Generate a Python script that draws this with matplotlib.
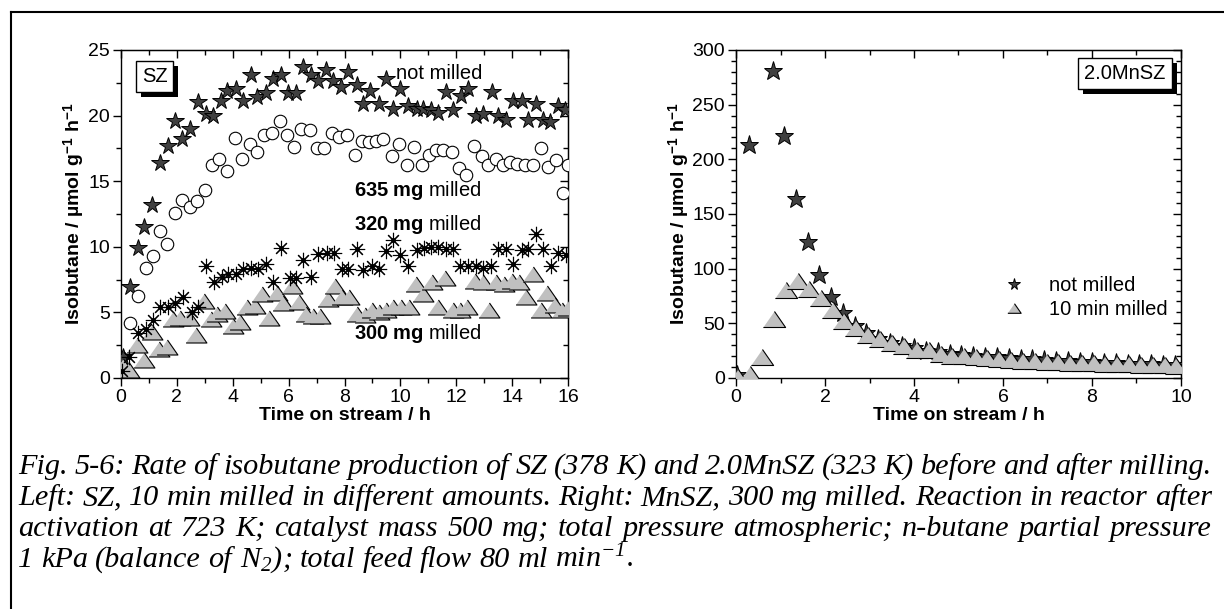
import matplotlib
matplotlib.use('Agg')
import matplotlib.pyplot as plt
import matplotlib.patheffects as pe
from matplotlib.lines import Line2D
from matplotlib.ticker import MultipleLocator

plt.rcParams['font.family'] = ['Liberation Sans', 'DejaVu Sans']
plt.rcParams['mathtext.fontset'] = 'custom'
plt.rcParams['mathtext.rm'] = 'Liberation Serif:italic'
plt.rcParams['mathtext.it'] = 'Liberation Serif:italic'
plt.rcParams['mathtext.bf'] = 'Liberation Sans:bold'

# ---- left panel: SZ, time on stream (h) and isobutane rate ----
t_nm = [0.03, 0.08, 0.32, 0.6, 0.83, 1.1, 1.4, 1.69, 1.93, 2.17, 2.47, 2.77, 3.04, 3.3, 3.58,
        3.81, 4.1, 4.38, 4.64, 4.88, 5.18, 5.43, 5.72, 5.99, 6.26, 6.52, 6.8, 7.06, 7.34, 7.6,
        7.87, 8.13, 8.44, 8.67, 8.93, 9.24, 9.48, 9.72, 10.0, 10.28, 10.58, 10.82, 11.08, 11.36,
        11.63, 11.9, 12.16, 12.43, 12.7, 12.97, 13.27, 13.5, 13.78, 14.02, 14.34, 14.57, 14.85,
        15.09, 15.35, 15.65, 15.89]
v_nm = [0.5, 1.6, 6.9, 9.9, 11.5, 13.2, 16.4, 17.7, 19.6, 18.2, 19.0, 21.0, 20.1, 20.0, 21.1,
        21.9, 22.0, 21.1, 23.1, 21.4, 21.7, 22.8, 23.1, 21.7, 21.7, 23.7, 23.1, 22.6, 23.5, 22.6,
        22.2, 23.3, 22.3, 20.9, 21.9, 20.9, 22.8, 20.5, 22.0, 20.7, 20.5, 20.5, 20.4, 20.2,
        21.8, 20.4, 21.5, 22.0, 20.0, 20.1, 21.8, 20.0, 19.7, 21.1, 21.1, 19.7, 20.9,
        19.7, 19.5, 20.7, 20.4]

t_635 = [0.05, 0.32, 0.62, 0.88, 1.13, 1.4, 1.64, 1.93, 2.2, 2.47, 2.73, 3.0, 3.27, 3.52, 3.78,
         4.08, 4.34, 4.62, 4.88, 5.12, 5.42, 5.69, 5.93, 6.2, 6.46, 6.76, 7.0, 7.28, 7.54, 7.81,
         8.08, 8.37, 8.61, 8.89, 9.13, 9.39, 9.69, 9.96, 10.22, 10.48, 10.76, 11.03, 11.27, 11.53,
         11.83, 12.09, 12.34, 12.63, 12.91, 13.15, 13.42, 13.68, 13.94, 14.18, 14.46, 14.73,
         15.03, 15.29, 15.57, 15.83, 16.0]
v_635 = [0.6, 4.2, 6.25, 8.4, 9.3, 11.2, 10.2, 12.6, 13.6, 13.0, 13.5, 14.3, 16.2, 16.7, 15.8,
         18.3, 16.7, 17.8, 17.2, 18.5, 18.7, 19.6, 18.5, 17.6, 19.0, 18.9, 17.5, 17.5, 18.7, 18.4,
         18.5, 17.0, 18.1, 18.0, 18.1, 18.2, 16.9, 17.8, 16.2, 17.6, 16.2, 17.0, 17.4, 17.4,
         17.2, 16.0, 15.5, 17.7, 16.9, 16.2, 16.7, 16.2, 16.5, 16.3, 16.2, 16.2,
         17.5, 16.1, 16.6, 14.1, 16.2]

t_320 = [0.05, 0.3, 0.62, 0.89, 1.13, 1.4, 1.69, 1.93, 2.23, 2.53, 2.77, 3.04, 3.33, 3.6, 3.84,
         4.11, 4.37, 4.64, 4.91, 5.19, 5.45, 5.71, 6.05, 6.28, 6.52, 6.79, 7.06, 7.36, 7.62, 7.9,
         8.13, 8.44, 8.67, 8.97, 9.24, 9.48, 9.72, 10.0, 10.28, 10.6, 10.84, 11.08, 11.35, 11.63,
         11.87, 12.13, 12.43, 12.7, 12.97, 13.23, 13.5, 13.78, 14.04, 14.34, 14.57, 14.84,
         15.11, 15.38, 15.65, 15.93]
v_320 = [0.5, 1.6, 3.4, 3.7, 4.4, 5.4, 5.4, 5.7, 6.2, 5.0, 5.4, 8.5, 7.3, 7.7, 7.9,
         7.9, 8.3, 8.4, 8.3, 8.7, 7.3, 9.9, 7.6, 7.6, 9.0, 7.7, 9.45, 9.55, 9.55, 8.3,
         8.3, 9.8, 8.2, 8.5, 8.3, 9.7, 10.5, 9.4, 8.5, 9.75, 9.9, 9.95, 9.95, 9.8,
         9.8, 8.5, 8.5, 8.5, 8.4, 8.5, 9.8, 9.8, 8.7, 9.75, 9.8, 11.0,
         9.8, 8.5, 9.55, 9.4]

t_300 = [0.07, 0.3, 0.56, 0.83, 1.1, 1.37, 1.63, 1.87, 2.11, 2.44, 2.68, 2.97, 3.22, 3.45, 3.72,
         4.0, 4.26, 4.52, 4.8, 5.03, 5.31, 5.57, 5.81, 6.11, 6.37, 6.61, 6.88, 7.14, 7.42, 7.66,
         7.92, 8.17, 8.44, 8.73, 8.97, 9.24, 9.48, 9.74, 10.02, 10.32, 10.56, 10.82, 11.12, 11.36,
         11.6, 11.87, 12.13, 12.39, 12.67, 12.94, 13.18, 13.44, 13.7, 13.98, 14.25, 14.49,
         14.76, 15.02, 15.25, 15.53, 15.77, 16.0]
v_300 = [0.9, 0.6, 2.5, 1.4, 3.5, 2.2, 2.4, 4.5, 4.55, 4.6, 3.3, 5.9, 4.5, 4.9, 5.1,
         4.0, 4.3, 5.4, 5.5, 6.4, 4.55, 6.5, 5.7, 7.0, 5.8, 4.9, 4.7, 4.7, 6.0, 7.0,
         6.2, 6.2, 4.9, 4.8, 5.2, 5.05, 5.2, 5.4, 5.4, 5.4, 7.2, 6.4, 7.3, 5.4,
         7.6, 5.2, 5.2, 5.4, 7.4, 7.3, 5.2, 7.3, 7.2, 7.4, 7.3, 6.2,
         7.9, 5.2, 6.5, 5.6, 5.2, 5.3]

# ---- right panel: 2.0MnSZ ----
t_mn0 = [0.03, 0.29, 0.83, 1.08, 1.35, 1.61, 1.87, 2.13, 2.4, 2.67, 2.93, 3.2, 3.46, 3.73, 4.0,
         4.26, 4.53, 4.8, 5.06, 5.33, 5.6, 5.86, 6.13, 6.4, 6.66, 6.93, 7.2, 7.46, 7.73, 8.0,
         8.26, 8.53, 8.8, 9.06, 9.33, 9.6, 9.86]
v_mn0 = [3, 213, 281, 221, 164, 124, 94, 74, 59, 48, 41, 36, 32, 29.5, 27,
         25, 23.5, 22, 21, 20, 19.5, 19, 18, 17.5, 17, 16.5, 16, 15.5, 15, 14.5,
         14, 13.5, 13, 12.5, 12.5, 12, 11.5]

t_mn10 = [0.05, 0.31, 0.58, 0.85, 1.12, 1.39, 1.65, 1.91, 2.17, 2.43, 2.7, 2.97, 3.24, 3.5, 3.78,
          4.06, 4.33, 4.6, 4.86, 5.12, 5.39, 5.65, 5.92, 6.18, 6.45, 6.71, 6.98, 7.24, 7.51, 7.77,
          8.04, 8.3, 8.57, 8.83, 9.1, 9.36, 9.63, 9.89]
v_mn10 = [1, 4, 19.5, 53.6, 80.5, 88.7, 81, 73, 62, 52.4, 46, 39.3, 35.4, 31.7, 29.3,
          25.6, 25.6, 22, 20, 20, 19, 18, 17.5, 16.5, 16, 16, 15, 15, 14, 14,
          13.5, 13, 13, 12.5, 12, 12, 11.5, 11]

caption = [
    "Fig. 5-6: Rate of isobutane production of SZ (378 K) and 2.0MnSZ (323 K) before and after milling.",
    "Left: SZ, 10 min milled in different amounts. Right: MnSZ, 300 mg milled. Reaction in reactor after",
    "activation at 723 K; catalyst mass 500 mg; total pressure atmospheric; n-butane partial pressure",
    "1 kPa (balance of N$_2$); total feed flow 80 ml min$^{-1}$.",
]

W, H = 1224, 609
fig = plt.figure(figsize=(W / 100, H / 100), dpi=100)

STAR = dict(marker='*', mfc='#404040', mec='black', mew=0.7, ls='none')
TRI = [(-1, -0.72), (1, -0.72), (0, 0.72)]
FS = 14

ax1 = fig.add_axes([121 / W, 1 - 378 / H, 447 / W, 328 / H])
ax1.plot(t_nm, v_nm, ms=13, **STAR, zorder=3)
ax1.plot(t_635, v_635, marker='o', ms=9, mfc='white', mec='black', mew=0.8, ls='none', zorder=3)
ax1.plot(t_300, v_300, marker=TRI, ms=15, mfc='#c0c0c0', mec='black', mew=0.8, ls='none', zorder=3)
ax1.plot(t_320, v_320, marker=(8, 2, 0), ms=11, mec='black', mew=0.8, ls='none', zorder=4)
ax1.plot(t_320, v_320, marker='o', ms=2.5, mfc='black', mec='black', ls='none', zorder=4)
ax1.set_xlim(0, 16)
ax1.set_ylim(0, 25)
ax1.xaxis.set_major_locator(MultipleLocator(2))
ax1.xaxis.set_minor_locator(MultipleLocator(1))
ax1.yaxis.set_major_locator(MultipleLocator(5))
ax1.yaxis.set_minor_locator(MultipleLocator(2.5))

ax1.text(9.85, 23.2, 'not milled', fontsize=14.5, va='center', zorder=5)
ax1.text(8.35, 14.3, r'$\mathbf{635\ mg}$ milled', fontsize=14.5, va='center')
ax1.text(8.35, 11.7, r'$\mathbf{320\ mg}$ milled', fontsize=14.5, va='center')
ax1.text(8.35, 3.4, r'$\mathbf{300\ mg}$ milled', fontsize=14.5, va='center')

ax2 = fig.add_axes([736 / W, 1 - 378 / H, 445 / W, 328 / H])
ax2.plot(t_mn0, v_mn0, ms=14, **STAR, zorder=3, label='not milled')
ax2.plot(t_mn10, v_mn10, marker=TRI, ms=16, mfc='#c0c0c0', mec='black', mew=0.8, ls='none',
         zorder=4, label='10 min milled')
ax2.set_xlim(0, 10)
ax2.set_ylim(0, 300)
ax2.xaxis.set_major_locator(MultipleLocator(2))
ax2.xaxis.set_minor_locator(MultipleLocator(1))
ax2.yaxis.set_major_locator(MultipleLocator(50))
ax2.yaxis.set_minor_locator(MultipleLocator(10))
ax2.legend(loc='center left', bbox_to_anchor=(0.603, 0.245), frameon=False, fontsize=14.5,
           markerscale=0.6, handlelength=1.0, handletextpad=1.2, labelspacing=0.28,
           borderpad=0, borderaxespad=0)

for ax, lp in ((ax1, 1), (ax2, 0)):
    ax.tick_params(which='both', direction='out', top=False, right=False, labelsize=FS, pad=2)
    ax.tick_params(which='major', length=6, width=1)
    ax.tick_params(which='minor', length=3.5, width=1)
    for s in ax.spines.values():
        s.set_linewidth(1)
    sx = ax.secondary_xaxis('top')
    sy = ax.secondary_yaxis('right')
    for sec in (sx, sy):
        sec.tick_params(which='both', direction='in', labeltop=False, labelright=False)
        sec.tick_params(which='major', length=6, width=1)
        sec.tick_params(which='minor', length=3.5, width=1)
    sx.xaxis.set_major_locator(ax.xaxis.get_major_locator())
    sx.xaxis.set_minor_locator(ax.xaxis.get_minor_locator())
    sy.yaxis.set_major_locator(ax.yaxis.get_major_locator())
    sy.yaxis.set_minor_locator(ax.yaxis.get_minor_locator())
    ax.set_xlabel('Time on stream / h', fontsize=FS, fontweight='bold', labelpad=1)
    ax.set_ylabel(r'Isobutane / µmol g$^{\mathbf{-1}}$ h$^{\mathbf{-1}}$', fontsize=FS,
                  fontweight='bold', labelpad=lp)


def shadow_box(ax, x, y, s):
    t = ax.text(x, y, s, transform=ax.transAxes, ha='center', va='center', fontsize=14.5, zorder=7,
                bbox=dict(boxstyle='square,pad=0.3', fc='white', ec='black', lw=1))
    t.get_bbox_patch().set_path_effects([
        pe.SimplePatchShadow(offset=(3.6, -3.6), shadow_rgbFace='black', alpha=1.0), pe.Normal()])


shadow_box(ax1, 0.075, 0.919, 'SZ')
shadow_box(ax2, 0.874, 0.927, '2.0MnSZ')

# outer frame lines
fig.add_artist(Line2D([11 / W, 1], [1 - 12 / H, 1 - 12 / H], color='black', lw=1.5))
fig.add_artist(Line2D([11 / W, 11 / W], [0, 1 - 12 / H], color='black', lw=1.5))

# justified italic caption
CFS = 21.8
x_left, x_right = 18, 1212
baselines = [474, 505, 536, 567]
renderer = fig.canvas.get_renderer()
for k, line in enumerate(caption):
    words = line.split(' ')
    objs = [fig.text(0, 0, w, fontsize=CFS, family='Liberation Serif', style='italic',
                     va='baseline', ha='left') for w in words]
    widths = [o.get_window_extent(renderer).width for o in objs]
    if k < len(caption) - 1:
        gap = (x_right - x_left - sum(widths)) / (len(words) - 1)
    else:
        gap = CFS * 100 / 72 * 0.25
    x = x_left
    for o, w in zip(objs, widths):
        o.set_position((x / W, 1 - baselines[k] / H))
        x += w + gap

fig.savefig('out.png', dpi=100)
